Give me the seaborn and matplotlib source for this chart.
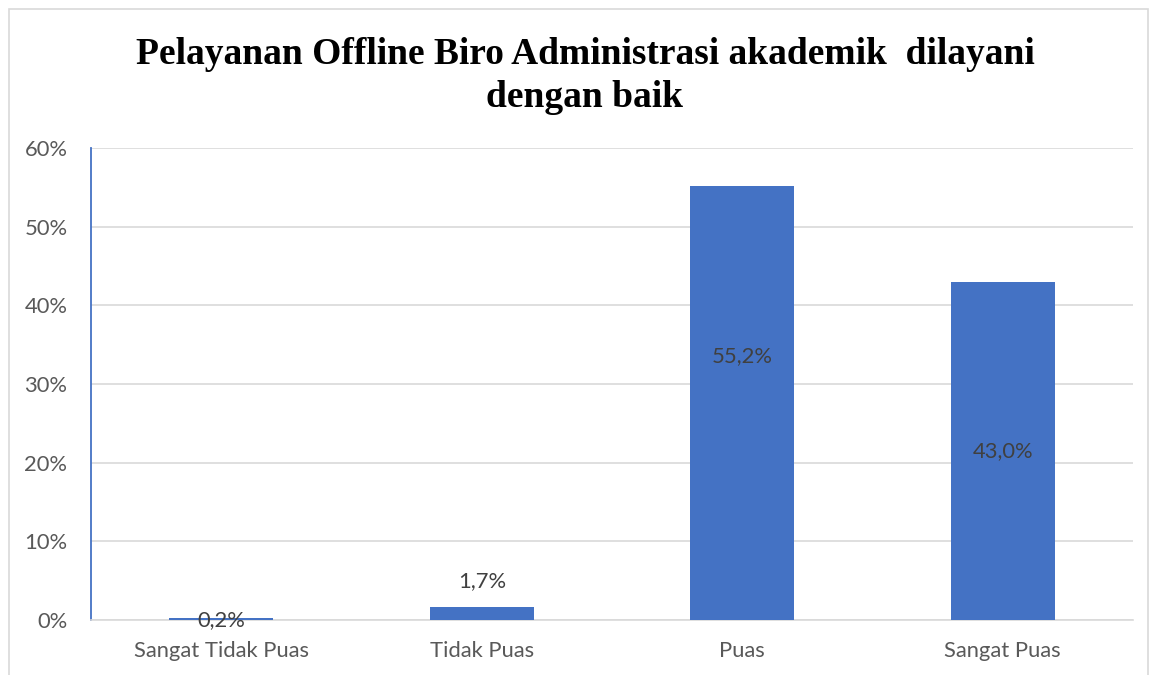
import matplotlib
matplotlib.use('Agg')
import matplotlib.pyplot as plt
import seaborn as sns
import pandas as pd
from matplotlib.patches import Rectangle

categories = ['Sangat Tidak Puas', 'Tidak Puas', 'Puas', 'Sangat Puas']
values = [0.2, 1.7, 55.2, 43.0]
value_labels = ['0,2%', '1,7%', '55,2%', '43,0%']
label_y = [0.0, 5.0, 33.6, 21.5]
title = 'Pelayanan Offline Biro Administrasi akademik  dilayani\ndengan baik'

sns.set_theme(style='white')
plt.rcParams['font.family'] = ['Lato', 'DejaVu Sans']

df = pd.DataFrame({'Kategori': categories, 'Persen': values})

fig = plt.figure(figsize=(11.5, 6.75), dpi=100)
ax = fig.add_axes([91 / 1150, 1 - 620 / 675, (1133 - 91) / 1150, (620 - 148) / 675])
sns.barplot(data=df, x='Kategori', y='Persen', color='#4472C4', width=0.4,
            saturation=1, linewidth=0, ax=ax, zorder=3)

ax.set_ylim(0, 60)
ax.set_yticks(range(0, 61, 10))
ax.set_yticklabels([f'{v}%' for v in range(0, 61, 10)])
ax.set_xlabel(None)
ax.set_ylabel(None)
ax.yaxis.grid(True, color='#D9D9D9', linewidth=1.2, zorder=0)
ax.tick_params(axis='both', length=0, labelsize=15.8, labelcolor='#595959')
ax.tick_params(axis='x', pad=15)
ax.tick_params(axis='y', pad=17)
for side in ['top', 'right']:
    ax.spines[side].set_visible(False)
ax.spines['left'].set_color('#4472C4')
ax.spines['left'].set_linewidth(1.3)
ax.spines['bottom'].set_color('#D9D9D9')
ax.spines['bottom'].set_linewidth(1.2)

for i, (lab, y) in enumerate(zip(value_labels, label_y)):
    ax.text(i, y, lab, ha='center', va='center', fontsize=15.8, color='#404040', zorder=4)

fig.text(585 / 1150, 1 - 76 / 675, title, ha='center', va='center', fontsize=27,
         fontweight='bold', color='black', family=['Liberation Serif', 'DejaVu Serif'],
         linespacing=1.28)

fig.patches.append(Rectangle((9 / 1150, -0.05), (1148 - 9) / 1150, 1.05 - 9 / 675,
                             transform=fig.transFigure, fill=False, edgecolor='#D9D9D9',
                             linewidth=1.2))

plt.savefig('out.png', dpi=100)
